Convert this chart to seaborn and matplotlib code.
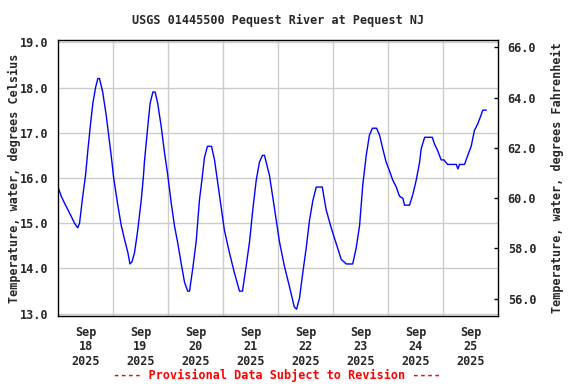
import matplotlib
matplotlib.use("Agg")
import matplotlib.pyplot as plt
import seaborn as sns
import pandas as pd

# Hours since Sep 18 2025 00:00 and water temperature (deg C)
hours = [0, 1.4, 2.8, 4.3, 5.8, 7.2, 8.6, 9.4, 10.1, 10.8, 12.0, 13.0, 14.1, 15.2, 16.4, 17.4, 18.1,
         19.5, 21.0, 22.2, 23.2, 24.3, 26.1, 27.6, 29.0, 30.5, 31.4, 32.3, 33.4, 34.8, 36.3, 37.3,
         37.7, 39.2, 40.2, 41.4, 42.4, 43.5, 45.0, 46.5, 47.8, 49.4, 50.8, 52.3, 53.8, 55.2, 56.6,
         57.4, 58.8, 60.3, 61.7, 62.9, 63.9, 65.2, 67.0, 68.3, 69.7, 71.2, 72.6, 74.8, 77.0, 79.2,
         80.5, 82.1, 83.6, 85.0, 86.5, 87.9, 89.2, 90.1, 92.3, 94.4, 96.6, 98.8, 101.0, 103.1, 104.1,
         105.4, 106.8, 108.3, 109.7, 111.2, 112.7, 115.3, 117.0, 119.2, 121.4, 123.6, 125.8, 128.6,
         130.1, 131.6, 133.0, 134.5, 135.9, 137.2, 139.0, 140.3, 141.7, 143.2, 144.7, 146.1, 147.6,
         149.0, 150.5, 151.2, 153.4, 154.9, 156.3, 157.8, 158.5, 160.0, 163.3, 164.3, 165.7, 167.2,
         168.4, 170.0, 173.8, 174.5, 175.2, 177.4, 178.8, 180.3, 181.7, 183.2, 184.7, 185.4, 186.9]
temps_c = [15.8, 15.6, 15.45, 15.3, 15.15, 15.0, 14.9, 15.0, 15.3, 15.6, 16.05, 16.6, 17.15, 17.65, 18.0, 18.2, 18.2,
           17.9, 17.4, 16.9, 16.5, 16.0, 15.4, 14.95, 14.65, 14.35, 14.1, 14.15, 14.35, 14.85, 15.5, 16.05,
           16.35, 17.15, 17.65, 17.9, 17.9, 17.65, 17.15, 16.55, 16.1, 15.45, 14.95, 14.55, 14.1, 13.7, 13.5,
           13.5, 14.0, 14.6, 15.5, 16.0, 16.45, 16.7, 16.7, 16.4, 15.9, 15.35, 14.85, 14.35, 13.9, 13.5,
           13.5, 14.05, 14.6, 15.3, 15.95, 16.35, 16.5, 16.5, 16.05, 15.35, 14.6, 14.05, 13.6, 13.15, 13.1,
           13.35, 13.9, 14.45, 15.05, 15.5, 15.8, 15.8, 15.3, 14.9, 14.55, 14.2, 14.1, 14.1,
           14.45, 14.95, 15.85, 16.5, 16.95, 17.1, 17.1, 16.95, 16.65, 16.35, 16.15, 15.95, 15.8,
           15.6, 15.55, 15.4, 15.4, 15.65, 15.95, 16.35, 16.65, 16.9, 16.9, 16.75, 16.6, 16.4,
           16.4, 16.3, 16.3, 16.2, 16.3, 16.3, 16.5, 16.7, 17.05, 17.2, 17.4, 17.5, 17.5]

day_labels = ["Sep\n18\n2025", "Sep\n19\n2025", "Sep\n20\n2025", "Sep\n21\n2025",
              "Sep\n22\n2025", "Sep\n23\n2025", "Sep\n24\n2025", "Sep\n25\n2025"]
c_ticks = [13.0, 14.0, 15.0, 16.0, 17.0, 18.0, 19.0]
f_ticks = [56.0, 58.0, 60.0, 62.0, 64.0, 66.0]

sns.set_style("white")
plt.rcParams["font.family"] = ["DejaVu Sans Mono"]
plt.rcParams["font.weight"] = "bold"
FS = 8.5

df = pd.DataFrame({"hours": hours, "temp": temps_c})

fig = plt.figure(figsize=(5.76, 3.84), dpi=100)
ax = fig.add_axes([58 / 576, 1 - 316 / 384, 440 / 576, 276 / 384])

sns.lineplot(data=df, x="hours", y="temp", ax=ax, color="#0000FF", linewidth=1.0)

ylo, yhi = 12.95, 19.05
ax.set_xlim(0, 192)
ax.set_ylim(ylo, yhi)

ax.set_yticks(c_ticks)
ax.set_yticklabels([f"{v:.1f}" for v in c_ticks], fontsize=FS, fontweight="bold")
ax.set_xticks([12 + 24 * i for i in range(len(day_labels))])
ax.set_xticklabels(day_labels, fontsize=FS, fontweight="bold", linespacing=1.15)
ax.set_xticks([24 * i for i in range(1, 8)], minor=True)
ax.tick_params(axis="x", which="both", length=0, pad=7)
ax.tick_params(axis="y", length=0, pad=7)
ax.grid(False)
ax.yaxis.grid(True, color="#CCCCCC", linewidth=1.0)
ax.xaxis.grid(True, which="minor", color="#CCCCCC", linewidth=1.0)
ax.set_xlabel("")
ax.set_ylabel("")
for s in ax.spines.values():
    s.set_color("black")
    s.set_linewidth(1.0)

ax2 = ax.twinx()
ax2.set_ylim(ylo * 9 / 5 + 32, yhi * 9 / 5 + 32)
ax2.set_yticks(f_ticks)
ax2.set_yticklabels([f"{v:.1f}" for v in f_ticks], fontsize=FS, fontweight="bold")
ax2.tick_params(axis="y", direction="in", length=3, width=1, pad=7, color="black")
ax2.grid(False)
for s in ax2.spines.values():
    s.set_visible(False)

fig.text(278 / 576, 1 - 20 / 384, "USGS 01445500 Pequest River at Pequest NJ",
         ha="center", va="center", fontsize=FS, fontweight="bold")
fig.text(14 / 576, 1 - 178 / 384, "Temperature, water, degrees Celsius", rotation=90,
         ha="center", va="center", fontsize=FS, fontweight="bold")
fig.text(557 / 576, 1 - 178 / 384, "Temperature, water, degrees Fahrenheit", rotation=90,
         ha="center", va="center", fontsize=FS, fontweight="bold")
fig.text(277 / 576, 1 - 375 / 384, "---- Provisional Data Subject to Revision ----",
         ha="center", va="center", fontsize=FS, fontweight="bold", color="red")

fig.savefig("out.png", dpi=100)
